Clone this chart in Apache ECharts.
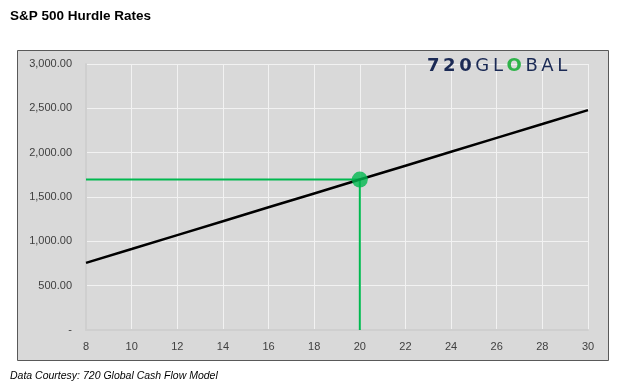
<!DOCTYPE html>
<html><head><meta charset="utf-8">
<script src="https://cdn.jsdelivr.net/npm/echarts@6/dist/echarts.min.js"></script>
<style>html,body{margin:0;padding:0;background:#fff}#c{width:619px;height:392px}</style>
</head><body><div id="c"></div>
<script>
const titleText = 'S&P 500 Hurdle Rates';
const sourceText = 'Data Courtesy: 720 Global Cash Flow Model';
const xValues = [8, 10, 12, 14, 16, 18, 20, 22, 24, 26, 28, 30];
const hurdleValues = [757, 913, 1070, 1227, 1384, 1540, 1697, 1853, 2010, 2167, 2323, 2480];
const markerX = 20;
const markerY = 1697;

const chart = echarts.init(document.getElementById('c'), null, {renderer: 'canvas'});
const fmt = v => v === 0 ? '-' : v.toLocaleString('en-US', {minimumFractionDigits: 2, maximumFractionDigits: 2});
const green = '#00b84f';
const ts = '\u2009';
chart.setOption({
  animation: false,
  backgroundColor: '#ffffff',
  graphic: [
    {type: 'rect', shape: {x: 17.5, y: 50.5, width: 591, height: 310}, style: {fill: '#d9d9d9', stroke: '#595959', lineWidth: 1}, z: -10},
    {type: 'text', left: 10, top: 9, style: {text: titleText, font: 'bold 13.5px "Liberation Sans", sans-serif', fill: '#000'}},
    {type: 'text', left: 10, top: 371, style: {text: sourceText, font: 'italic 10.5px "Liberation Sans", sans-serif', fill: '#000'}},
    {type: 'text', left: 427, top: 57, z: 10, style: {
      rich: {
        a: {font: 'bold 18px "DejaVu Sans", sans-serif', fill: '#1b2a55'},
        b: {font: '18px "DejaVu Sans", sans-serif', fill: '#1b2a55'},
        o: {font: 'bold 18px "DejaVu Sans", sans-serif', fill: '#2fb34a'}
      },
      text: '{a|7' + ts + '2' + ts + '0}{b|' + ts + 'G' + ts + 'L' + ts + '}{o|O}{b|' + ts + 'B' + ts + 'A' + ts + 'L}'
    }}
  ],
  grid: {left: 86, right: 31, top: 64, bottom: 62},
  xAxis: {
    type: 'value', min: 8, max: 30, interval: 2,
    axisLine: {show: true, lineStyle: {color: '#cfcfcf', width: 2}},
    axisTick: {show: false},
    axisLabel: {color: '#404040', fontSize: 11, fontFamily: '"Liberation Sans", sans-serif', margin: 11},
    splitLine: {show: true, lineStyle: {color: '#f2f2f2', width: 1}}
  },
  yAxis: {
    type: 'value', min: 0, max: 3000, interval: 500,
    axisLine: {show: true, lineStyle: {color: '#cfcfcf', width: 2}},
    axisTick: {show: false},
    axisLabel: {color: '#404040', fontSize: 11, fontFamily: '"Liberation Sans", sans-serif', margin: 14, formatter: fmt},
    splitLine: {show: true, lineStyle: {color: '#f2f2f2', width: 1}}
  },
  series: [
    {type: 'line', data: [[xValues[0], markerY], [markerX, markerY]], symbol: 'none', lineStyle: {color: green, width: 2}, z: 2},
    {type: 'line', data: [[markerX, markerY], [markerX, 0]], symbol: 'none', lineStyle: {color: green, width: 2}, z: 2},
    {type: 'line', data: xValues.map((x, i) => [x, hurdleValues[i]]), symbol: 'none', lineStyle: {color: '#000', width: 2.5}, z: 3},
    {type: 'scatter', data: [[markerX, markerY]], symbolSize: 16, itemStyle: {color: green}, z: 4}
  ]
});
</script></body></html>
